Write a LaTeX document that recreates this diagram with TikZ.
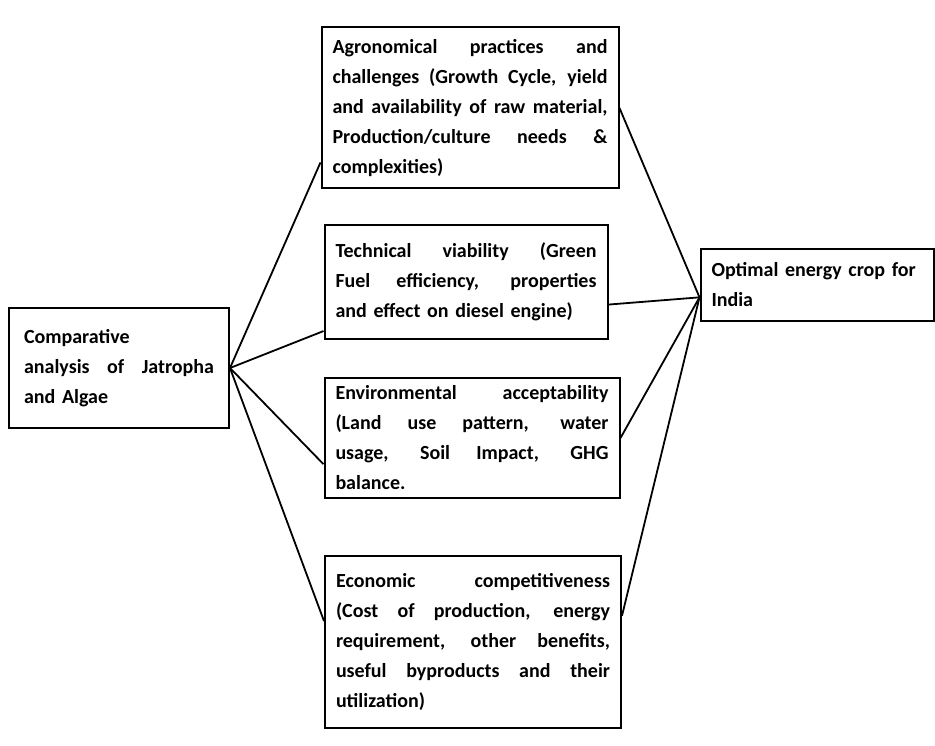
\documentclass[tikz,border=0pt]{standalone}
\usepackage{fontspec}
\setmainfont{Carlito}
\usepackage{tikz}
\usetikzlibrary{positioning}

% one justified line of a box
\newcommand{\jrow}[1]{\makebox[\hsize][s]{\spaceskip=\fontdimen2\font plus 1fil\relax #1}}

\begin{document}
\begin{tikzpicture}[
    x=1pt,y=-1pt,
    box/.style={rectangle,draw,line width=2pt,align=left,inner xsep=11pt,inner ysep=3pt,
                font=\fontsize{20}{30}\selectfont\bfseries},
    link/.style={line width=1.8pt}
]
    \useasboundingbox (0,0) rectangle (935,746);

    % Boxes
    \node[box,text width=190pt,minimum height=120pt,inner xsep=15pt] (cmp) at (119,368)
        {Comparative\\ \jrow{analysis of Jatropha}\\ and Algae};
    \node[box,text width=275pt,minimum height=161pt] (agr) at (470,108)
        {\jrow{Agronomical practices and}\\ \jrow{challenges (Growth Cycle, yield}\\
         \jrow{and availability of raw material,}\\ \jrow{Production/culture needs \&}\\ complexities)};
    \node[box,text width=261pt,minimum height=113pt] (tech) at (466,282)
        {\jrow{Technical viability (Green}\\ \jrow{Fuel efficiency, properties}\\ and effect on diesel engine)};
    \node[box,text width=273pt,minimum height=120pt] (env) at (472,438)
        {\jrow{Environmental acceptability}\\ \jrow{(Land use pattern, water}\\
         \jrow{usage, Soil Impact, GHG}\\ balance.};
    \node[box,text width=274pt,minimum height=172pt] (eco) at (473,642)
        {\jrow{Economic competitiveness}\\ \jrow{(Cost of production, energy}\\
         \jrow{requirement, other benefits,}\\ \jrow{useful byproducts and their}\\ utilization)};
    \node[box,text width=211pt,minimum height=72pt] (opt) at (817,285)
        {Optimal energy crop for\\ India};

    % Connectors
    \draw[link] (cmp.east) -- (agr.200);
    \draw[link] (cmp.east) -- (tech.199);
    \draw[link] (cmp.east) -- (env.190);
    \draw[link] (cmp.east) -- (eco.172);
    \draw[link] (agr.east) -- (opt.186);
    \draw[link] (tech.351) -- (opt.186);
    \draw[link] (env.east) -- (opt.186);
    \draw[link] (eco.10) -- (opt.186);
\end{tikzpicture}
\end{document}
